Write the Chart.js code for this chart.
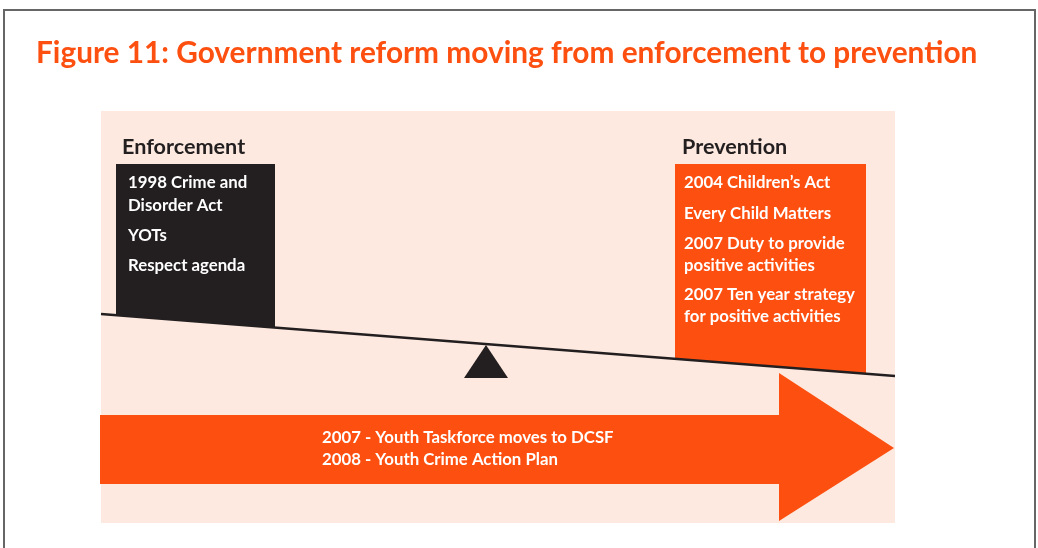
<!DOCTYPE html>
<html>
<head>
<meta charset="utf-8">
<script src="https://cdn.jsdelivr.net/npm/chart.js@4.4.0/dist/chart.umd.min.js"></script>
<style>
  html, body { margin: 0; padding: 0; background: #fff; }
  #wrap { width: 1038px; height: 548px; position: relative; }
</style>
</head>
<body>
<div id="wrap"><canvas id="figure"></canvas></div>
<script>
// diagram units: x 0..1038 left to right, y 0..548 top to bottom
var panelX = [101, 895, 895, 101];
var panelY = [111, 111, 523, 523];
var beamX = [101, 895];
var beamY = [314, 376];
var enfBoxX = [116, 275, 275, 116];
var enfBoxY = [164, 164, 327.6, 315.2];
var prevBoxX = [675, 866, 866, 675];
var prevBoxY = [164, 164, 373.7, 358.8];
var pivotX = [486, 508, 464];
var pivotY = [345, 378, 378];
var arrowX = [100, 779, 779, 894, 779, 779, 100];
var arrowY = [415, 415, 373, 448, 521, 484, 484];

var title = "Figure 11: Government reform moving from enforcement to prevention";
var enfHeading = "Enforcement";
var enfItems = ["1998 Crime and", "Disorder Act", "YOTs", "Respect agenda"];
var prevHeading = "Prevention";
var prevItems = ["2004 Children\u2019s Act", "Every Child Matters", "2007 Duty to provide",
  "positive activities", "2007 Ten year strategy", "for positive activities"];
var arrowItems = ["2007 - Youth Taskforce moves to DCSF", "2008 - Youth Crime Action Plan"];

// where the text lines sit
var enfItemY = [183, 206, 236, 266];
var prevItemY = [183, 214, 244, 266, 295, 317];
var arrowItemY = [438, 460];

var ORANGE = "#fd4f0f";
var DARK = "#231f20";
var PEACH = "#fde9df";
var FONT = "Lato, 'Open Sans', sans-serif";

function pts(xs, ys) {
  return xs.map(function (x, i) { return { x: x, y: ys[i] }; });
}

function shape(xs, ys, color, order) {
  return {
    data: pts(xs, ys),
    showLine: true,
    fill: "shape",
    backgroundColor: color,
    borderColor: "rgba(0,0,0,0)",
    borderWidth: 1,
    pointRadius: 0,
    tension: 0,
    order: order
  };
}

var textPlugin = {
  id: "diagramText",
  beforeDraw: function (chart) {
    var ctx = chart.ctx, sx = chart.scales.x, sy = chart.scales.y;
    ctx.save();
    ctx.strokeStyle = "#666";
    ctx.lineWidth = 2;
    var x0 = sx.getPixelForValue(4), y0 = sy.getPixelForValue(10);
    ctx.strokeRect(x0, y0, sx.getPixelForValue(1035) - x0, sy.getPixelForValue(560) - y0);
    ctx.restore();
  },
  afterDatasetsDraw: function (chart) {
    var ctx = chart.ctx, sx = chart.scales.x, sy = chart.scales.y;
    function put(str, x, y, size, color) {
      ctx.font = "bold " + size + "px " + FONT;
      ctx.fillStyle = color;
      ctx.fillText(str, sx.getPixelForValue(x), sy.getPixelForValue(y));
    }
    ctx.save();
    ctx.textBaseline = "middle";
    ctx.textAlign = "left";
    put(title, 36, 53, 29.8, ORANGE);
    put(enfHeading, 122, 147, 21.6, DARK);
    put(prevHeading, 682, 147, 21.6, DARK);
    enfItems.forEach(function (s, i) { put(s, 128, enfItemY[i], 16.8, "#fff"); });
    prevItems.forEach(function (s, i) { put(s, 684, prevItemY[i], 16.8, "#fff"); });
    arrowItems.forEach(function (s, i) { put(s, 322, arrowItemY[i], 16.8, "#fff"); });
    ctx.restore();
  }
};

var chart = new Chart(document.getElementById("figure").getContext("2d"), {
  type: "scatter",
  data: {
    datasets: [
      {
        data: pts(beamX, beamY),
        showLine: true,
        borderColor: DARK,
        borderWidth: 2.5,
        pointRadius: 0,
        fill: false,
        order: 1
      },
      shape(enfBoxX, enfBoxY, DARK, 2),
      shape(prevBoxX, prevBoxY, ORANGE, 2),
      shape(pivotX, pivotY, DARK, 3),
      shape(arrowX, arrowY, ORANGE, 3),
      shape(panelX, panelY, PEACH, 9)
    ]
  },
  options: {
    responsive: true,
    maintainAspectRatio: false,
    animation: false,
    events: [],
    layout: { padding: 0 },
    scales: {
      x: { type: "linear", min: 0, max: 1038, display: false },
      y: { type: "linear", min: 0, max: 548, reverse: true, display: false }
    },
    plugins: {
      legend: { display: false },
      tooltip: { enabled: false }
    }
  },
  plugins: [textPlugin]
});
</script>
</body>
</html>
